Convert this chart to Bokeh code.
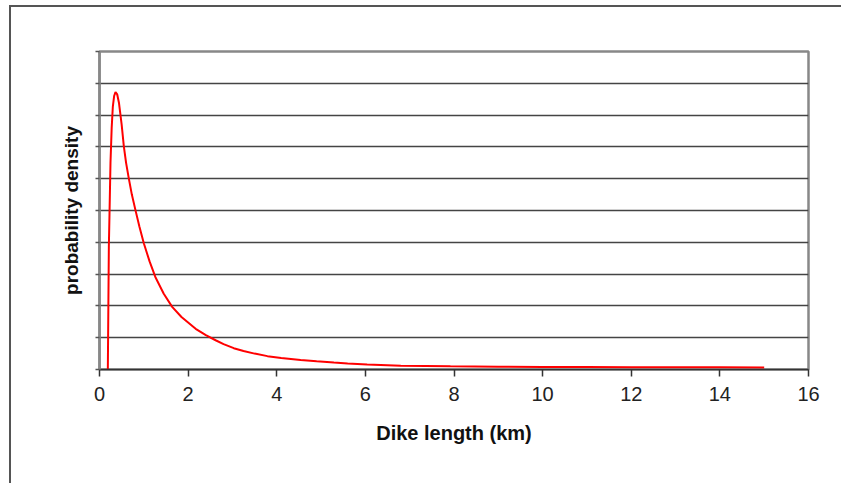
from bokeh.plotting import figure
from bokeh.models import FixedTicker, Range1d
from bokeh.embed import file_html
from bokeh.resources import INLINE

# Dike length (km) and probability density (arbitrary units)
length_km = [0.188, 0.20, 0.211, 0.226, 0.248, 0.275, 0.301, 0.33, 0.361, 0.40, 0.44,
             0.50, 0.55, 0.60, 0.66, 0.73, 0.81, 0.90, 1.00, 1.13, 1.26, 1.45, 1.64,
             1.85, 2.17, 2.40, 2.62, 2.80, 3.03, 3.25, 3.50, 3.79, 4.10, 4.54, 4.90,
             5.29, 5.60, 6.04, 6.80, 7.92, 9.0, 10.0, 11.0, 12.0, 13.0, 14.0, 15.0]
density = [0.0, 2.0, 3.86, 4.91, 6.5, 7.6, 8.27, 8.6, 8.72, 8.65, 8.38,
           7.7, 7.01, 6.5, 6.02, 5.5, 5.02, 4.5, 3.97, 3.4, 2.91, 2.38, 1.97,
           1.65, 1.28, 1.08, 0.92, 0.80, 0.67, 0.58, 0.50, 0.42, 0.36, 0.30, 0.26,
           0.22, 0.19, 0.16, 0.12, 0.10, 0.09, 0.08, 0.08, 0.07, 0.07, 0.07, 0.06]

x_ticks = [0, 2, 4, 6, 8, 10, 12, 14, 16]
y_ticks = [0, 1, 2, 3, 4, 5, 6, 7, 8, 9, 10]

p = figure(width=832, height=478, output_backend="svg", toolbar_location=None,
           x_range=Range1d(0, 16), y_range=Range1d(0, 10),
           min_border_left=88, min_border_right=35, min_border_top=44, min_border_bottom=116,
           background_fill_color="white", border_fill_color="white")
p.styles = {"border-left": "2px solid #555555", "border-top": "2px solid #555555",
            "margin-left": "9px", "margin-top": "5px"}

p.line(length_km, density, line_color="#ff0000", line_width=2)

p.outline_line_color = "#888888"
p.outline_line_width = 2.5

p.xgrid.visible = False
p.ygrid.ticker = FixedTicker(ticks=y_ticks[1:-1])
p.ygrid.grid_line_color = "#444444"
p.ygrid.grid_line_width = 1.5

xa = p.xaxis[0]
xa.ticker = FixedTicker(ticks=x_ticks)
xa.axis_line_color = "#333333"
xa.axis_line_width = 1.5
xa.major_tick_line_color = "#333333"
xa.major_tick_line_width = 1.5
xa.major_tick_out = 7
xa.major_tick_in = 0
xa.minor_tick_line_color = None
xa.major_label_text_font = "Liberation Sans"
xa.major_label_text_font_size = "20px"
xa.major_label_text_color = "#222222"
xa.major_label_standoff = 10
xa.axis_label = "Dike length (km)"
xa.axis_label_text_font = "Liberation Sans"
xa.axis_label_text_font_size = "20px"
xa.axis_label_text_font_style = "bold"
xa.axis_label_text_color = "#111111"
xa.axis_label_standoff = 18

ya = p.yaxis[0]
ya.ticker = FixedTicker(ticks=y_ticks)
ya.major_label_overrides = {t: "" for t in y_ticks}
ya.axis_line_color = "#888888"
ya.axis_line_width = 2.5
ya.major_tick_line_color = "#555555"
ya.major_tick_line_width = 1.5
ya.major_tick_out = 4
ya.major_tick_in = 0
ya.minor_tick_line_color = None
ya.axis_label = "probability density"
ya.axis_label_text_font = "Liberation Sans"
ya.axis_label_text_font_size = "19px"
ya.axis_label_text_font_style = "bold"
ya.axis_label_text_color = "#111111"
ya.axis_label_standoff = 14

open("out.html", "w").write(file_html(p, INLINE))
